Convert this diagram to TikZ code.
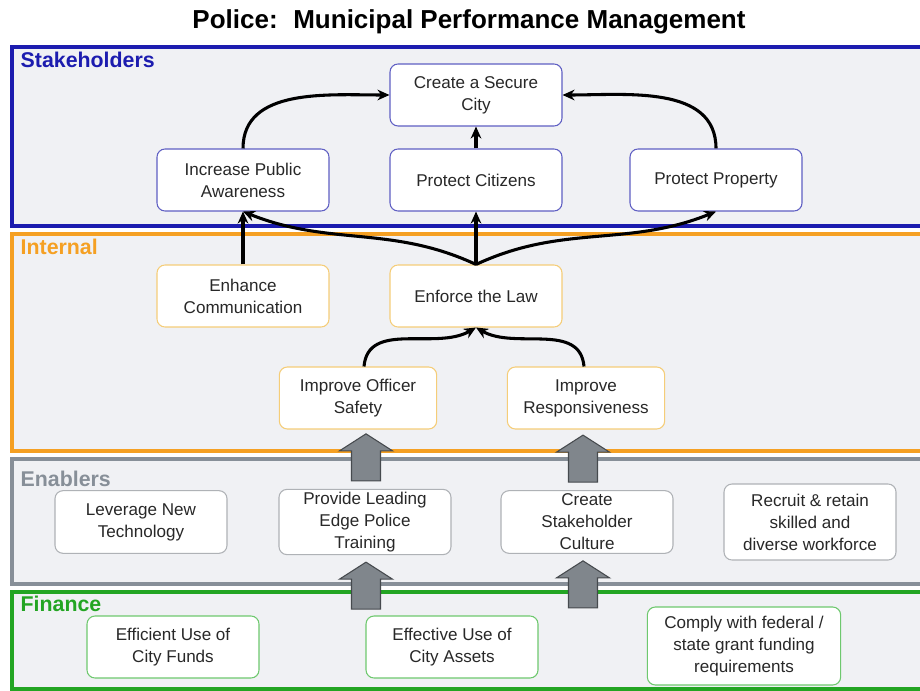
\documentclass[tikz,border=0pt]{standalone}
\usepackage{fontspec}
\setmainfont{Liberation Sans}
\usetikzlibrary{arrows.meta,calc}

\definecolor{panelbg}{RGB}{240,241,244}
\definecolor{stakecol}{RGB}{28,28,175}
\definecolor{stakebox}{RGB}{95,95,195}
\definecolor{intcol}{RGB}{245,160,35}
\definecolor{intbox}{RGB}{245,205,120}
\definecolor{enacol}{RGB}{135,143,152}
\definecolor{enabox}{RGB}{175,178,182}
\definecolor{fincol}{RGB}{35,165,35}
\definecolor{finbox}{RGB}{110,200,110}
\definecolor{txt}{RGB}{40,40,40}
\definecolor{arrowgray}{RGB}{128,134,140}
\definecolor{arrowedge}{RGB}{70,74,78}

\tikzset{
  panel/.style={fill=panelbg, line width=2.4pt},
  panellabel/.style={anchor=west, font=\bfseries\fontsize{16}{18}\selectfont},
  box/.style={draw, fill=white, rounded corners=6pt, align=center, line width=0.8pt,
    minimum width=129pt, minimum height=46.5pt, inner sep=2pt,
    font=\fontsize{12.8}{16.5}\selectfont, text=txt},
  sbox/.style={box, draw=stakebox},
  ibox/.style={box, draw=intbox},
  ebox/.style={box, draw=enabox},
  fbox/.style={box, draw=finbox},
  flow/.style={line width=2.3pt, -{Stealth[length=9pt,width=8pt]}},
  blockup/.pic={
    \draw[fill=arrowgray, draw=arrowedge, line width=0.8pt, line join=miter]
      (0,0) -- (26.5,-17) -- (14.5,-17) -- (14.5,-47) -- (-14.5,-47)
      -- (-14.5,-17) -- (-26.5,-17) -- cycle;
  }
}

\begin{document}
\begin{tikzpicture}[x=0.75pt,y=0.75pt]
\useasboundingbox (0,0) rectangle (920,-691);
\fill[white] (0,0) rectangle (920,-691);
\clip (0,0) rectangle (920,-691);

% title
\node[font=\bfseries\fontsize{19.5}{22}\selectfont, text=black] (title) at (469,-22)
  {Police:\hspace{0.6em}Municipal Performance Management};

% layer panels
\draw[panel, draw=stakecol] (12,-47) rectangle (935,-226);
\draw[panel, draw=intcol] (12,-234) rectangle (935,-451);
\draw[panel, draw=enacol] (12,-459) rectangle (935,-584);
\draw[panel, draw=fincol] (12,-592) rectangle (935,-689);

\node[panellabel, text=stakecol] (lstake) at (16,-60) {Stakeholders};
\node[panellabel, text=intcol] (lint) at (16,-247) {Internal};
\node[panellabel, text=enacol] (lena) at (16,-479) {Enablers};
\node[panellabel, text=fincol] (lfin) at (16,-604) {Finance};

% stakeholder objectives
\node[sbox] (secure) at (476,-95) {Create a Secure\\City};
\node[sbox] (aware) at (243,-180) {Increase Public\\Awareness};
\node[sbox] (citizens) at (476,-180) {Protect Citizens};
\node[sbox] (property) at (716,-180) {Protect Property};

% internal objectives
\node[ibox] (comm) at (243,-296) {Enhance\\Communication};
\node[ibox] (law) at (476,-296) {Enforce the Law};
\node[ibox, minimum width=118pt] (safety) at (358,-398) {Improve Officer\\Safety};
\node[ibox, minimum width=118pt] (resp) at (586,-398) {Improve\\Responsiveness};

% enablers
\node[ebox, minimum height=47pt] (tech) at (141,-522) {Leverage New\\Technology};
\node[ebox, minimum height=47pt] (training) at (365,-522) {Provide Leading\\Edge Police\\Training};
\node[ebox, minimum height=47pt] (culture) at (587,-522) {Create\\Stakeholder\\Culture};
\node[ebox, minimum height=57pt] (recruit) at (810,-522) {Recruit \& retain\\skilled and\\diverse workforce};

% finance
\node[fbox] (funds) at (173,-647) {Efficient Use of\\City Funds};
\node[fbox] (assets) at (452,-647) {Effective Use of\\City Assets};
\node[fbox, minimum width=145pt, minimum height=58.5pt] (comply) at (744,-646)
  {Comply with federal /\\state grant funding\\requirements};

% block arrows between layers
\pic at ($(training.north)+(1,55)$) {blockup};
\pic at ($(culture.north)+(-4,55)$) {blockup};
\pic at ($(training.south)+(1,-7)$) {blockup};
\pic at ($(culture.south)+(-4,-7)$) {blockup};

% cause-and-effect links
\draw[flow] (aware.north) to[out=90,in=180] (secure.west);
\draw[flow] (property.north) to[out=90,in=0] (secure.east);
\draw[flow] (citizens.north) -- (secure.south);
\draw[flow] (law.north) -- (citizens.south);
\draw[flow] (law.north) to[out=155,in=-22] (aware.south);
\draw[flow] (law.north) to[out=25,in=202] (property.south);
\draw[flow] (comm.north) -- (aware.south);
\draw[flow] ($(safety.north)+(6,0)$) to[out=85,in=-150] (law.south);
\draw[flow] ($(resp.north)+(-2,0)$) to[out=95,in=-30] (law.south);
\end{tikzpicture}
\end{document}
